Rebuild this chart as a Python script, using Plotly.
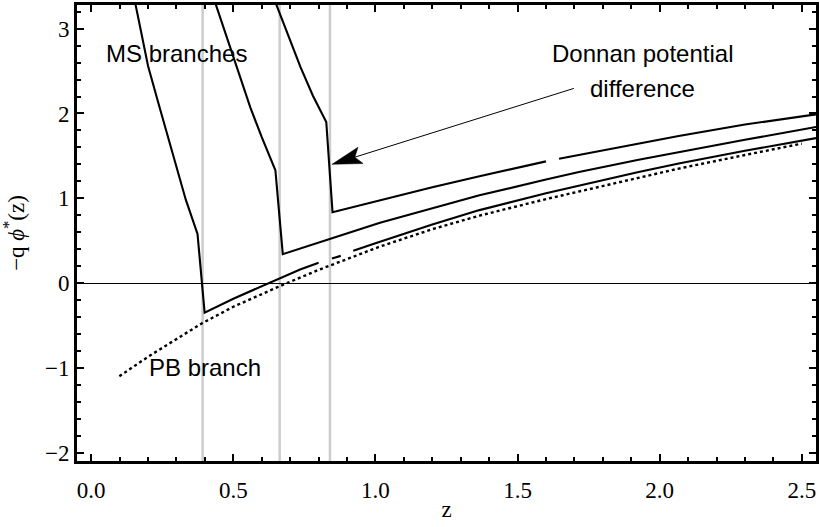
import math
import plotly.graph_objects as go

# ---- data ----
gap_z = [0.392, 0.663, 0.84]

ms1_z = [0.149, 0.175, 0.2, 0.234, 0.28, 0.333, 0.374, 0.399, 0.5, 0.625, 0.735, 0.80, None,
         0.847, 0.878, None, 0.922, 1.0, 1.2, 1.366, 1.6, 1.716, 1.926, 2.067, 2.3, 2.55]
ms1_phi = [3.40, 2.95, 2.56, 2.15, 1.60, 0.98, 0.58, -0.35, -0.185, 0.0, 0.16, 0.24, None,
           0.29, 0.32, None, 0.38, 0.47, 0.69, 0.86, 1.06, 1.15, 1.31, 1.41, 1.56, 1.71]

ms2_z = [0.427, 0.438, 0.50, 0.56, 0.60, 0.648, 0.674, 0.75, 0.85, 1.016, 1.2, 1.366,
         1.6, 1.716, 1.926, 2.067, 2.3, 2.55]
ms2_phi = [3.40, 3.29, 2.67, 2.07, 1.72, 1.33, 0.34, 0.42, 0.53, 0.71, 0.885, 1.035,
           1.22, 1.31, 1.455, 1.545, 1.69, 1.84]

ms3_z = [0.638, 0.70, 0.736, 0.78, 0.827, 0.849, 0.93, 1.016, 1.2, 1.366, 1.6, None,
         1.646, 1.716, 1.926, 2.067, 2.3, 2.55]
ms3_phi = [3.40, 2.86, 2.55, 2.21, 1.90, 0.835, 0.905, 0.98, 1.13, 1.26, 1.435, None,
           1.465, 1.51, 1.645, 1.735, 1.87, 1.99]

pb_z = [0.099, 0.2, 0.315, 0.39, 0.5, 0.665, 0.8, 1.016, 1.2, 1.366, 1.6, 1.716,
        1.926, 2.067, 2.3, 2.5]
pb_phi = [-1.10, -0.87, -0.63, -0.475, -0.28, -0.035, 0.155, 0.43, 0.635, 0.795, 0.99, 1.08,
          1.245, 1.35, 1.51, 1.645]

arrow_z = [1.698, 0.847]      # tail, tip
arrow_phi = [2.296, 1.40]

x_range = [-0.05, 2.55]
y_range = [-2.1, 3.28]

labels = [
    ("MS branches", 0.30, 2.71),
    ("PB branch", 0.40, -1.0),
    ("Donnan potential", 1.94, 2.71),
    ("difference", 1.94, 2.30),
]

# ---- layout geometry ----
W, H = 820, 527
M = dict(l=77, r=4, t=5, b=66)
sx = (W - M["l"] - M["r"]) / (x_range[1] - x_range[0])   # px per unit z
sy = (H - M["t"] - M["b"]) / (y_range[1] - y_range[0])   # px per unit phi

fig = go.Figure()

for gz in gap_z:
    fig.add_vline(x=gz, line=dict(color="#cccccc", width=2.5), layer="below")

curve_line = dict(color="black", width=2.1)
for zs, ps in [(ms1_z, ms1_phi), (ms2_z, ms2_phi), (ms3_z, ms3_phi)]:
    fig.add_trace(go.Scatter(x=zs, y=ps, mode="lines", line=curve_line,
                             connectgaps=False, showlegend=False, hoverinfo="skip"))

fig.add_trace(go.Scatter(x=pb_z, y=pb_phi, mode="lines",
                         line=dict(color="black", width=2.4, dash="dot"),
                         showlegend=False, hoverinfo="skip"))

# arrow: shaft + filled head built from the tail/tip above
head_len, head_half, notch = 30.0, 8.6, 6.0
tx, ty = arrow_z[1] * sx, arrow_phi[1] * sy
ax_, ay_ = arrow_z[0] * sx, arrow_phi[0] * sy
dx, dy = tx - ax_, ty - ay_
L = math.hypot(dx, dy)
ux, uy = dx / L, dy / L
nx, ny = -uy, ux
bx, by = tx - head_len * ux, ty - head_len * uy
hx = [tx, bx + head_half * nx, tx - (head_len - notch) * ux, bx - head_half * nx, tx]
hy = [ty, by + head_half * ny, ty - (head_len - notch) * uy, by - head_half * ny, ty]
head_z = [v / sx for v in hx]
head_phi = [v / sy for v in hy]

fig.add_trace(go.Scatter(x=[arrow_z[0], head_z[2]], y=[arrow_phi[0], head_phi[2]], mode="lines",
                         line=dict(color="black", width=1),
                         showlegend=False, hoverinfo="skip"))
fig.add_trace(go.Scatter(x=head_z, y=head_phi, mode="lines", fill="toself",
                         fillcolor="black", line=dict(color="black", width=0.5),
                         showlegend=False, hoverinfo="skip"))

# empty trace on overlay axes so that mirrored minor ticks are drawn
fig.add_trace(go.Scatter(x=[], y=[], xaxis="x2", yaxis="y2", showlegend=False))

for txt, lx, ly in labels:
    fig.add_annotation(x=lx, y=ly, text=txt, showarrow=False,
                       font=dict(family="Liberation Sans, Arial", size=24, color="black"),
                       xanchor="center", yanchor="middle")

tick_font = dict(family="Liberation Serif, Times New Roman", size=23, color="black")

fig.update_layout(
    width=W, height=H, margin=M,
    paper_bgcolor="white", plot_bgcolor="white",
    xaxis=dict(range=x_range, showline=True, linewidth=3, linecolor="black", mirror=True,
               ticks="inside", ticklen=7, tickwidth=2, tickcolor="black",
               tick0=0, dtick=0.5, tickformat=".1f", tickfont=tick_font,
               ticklabelstandoff=6, automargin=False,
               showgrid=False, zeroline=False,
               minor=dict(ticks="inside", tick0=0, dtick=0.1, ticklen=4, tickwidth=2,
                          tickcolor="black", showgrid=False),
               title=dict(text="z", font=tick_font, standoff=0)),
    yaxis=dict(range=y_range, showline=True, linewidth=3, linecolor="black", mirror=True,
               ticks="inside", ticklen=7, tickwidth=2, tickcolor="black",
               tick0=0, dtick=1, tickfont=tick_font, automargin=False,
               showgrid=False, zeroline=True, zerolinecolor="black", zerolinewidth=1,
               minor=dict(ticks="inside", tick0=0, dtick=0.2, ticklen=4, tickwidth=2,
                          tickcolor="black", showgrid=False),
               title=dict(text="−q <i>ϕ</i><sup>*</sup>(z)", font=tick_font, standoff=24)),
    xaxis2=dict(range=x_range, overlaying="x", side="top", showline=False,
                ticks="inside", ticklen=7, tickwidth=2, tickcolor="black",
                tick0=0, dtick=0.5, showticklabels=False, showgrid=False, zeroline=False,
                automargin=False,
                minor=dict(ticks="inside", tick0=0, dtick=0.1, ticklen=4, tickwidth=2,
                           tickcolor="black", showgrid=False)),
    yaxis2=dict(range=y_range, overlaying="y", side="right", showline=False,
                ticks="inside", ticklen=7, tickwidth=2, tickcolor="black",
                tick0=0, dtick=1, showticklabels=False, showgrid=False, zeroline=False,
                automargin=False,
                minor=dict(ticks="inside", tick0=0, dtick=0.2, ticklen=4, tickwidth=2,
                           tickcolor="black", showgrid=False)),
)

fig.write_html("out.html", config={"displayModeBar": False},
               post_script="document.body.style.margin='0';document.body.style.padding='0';")
